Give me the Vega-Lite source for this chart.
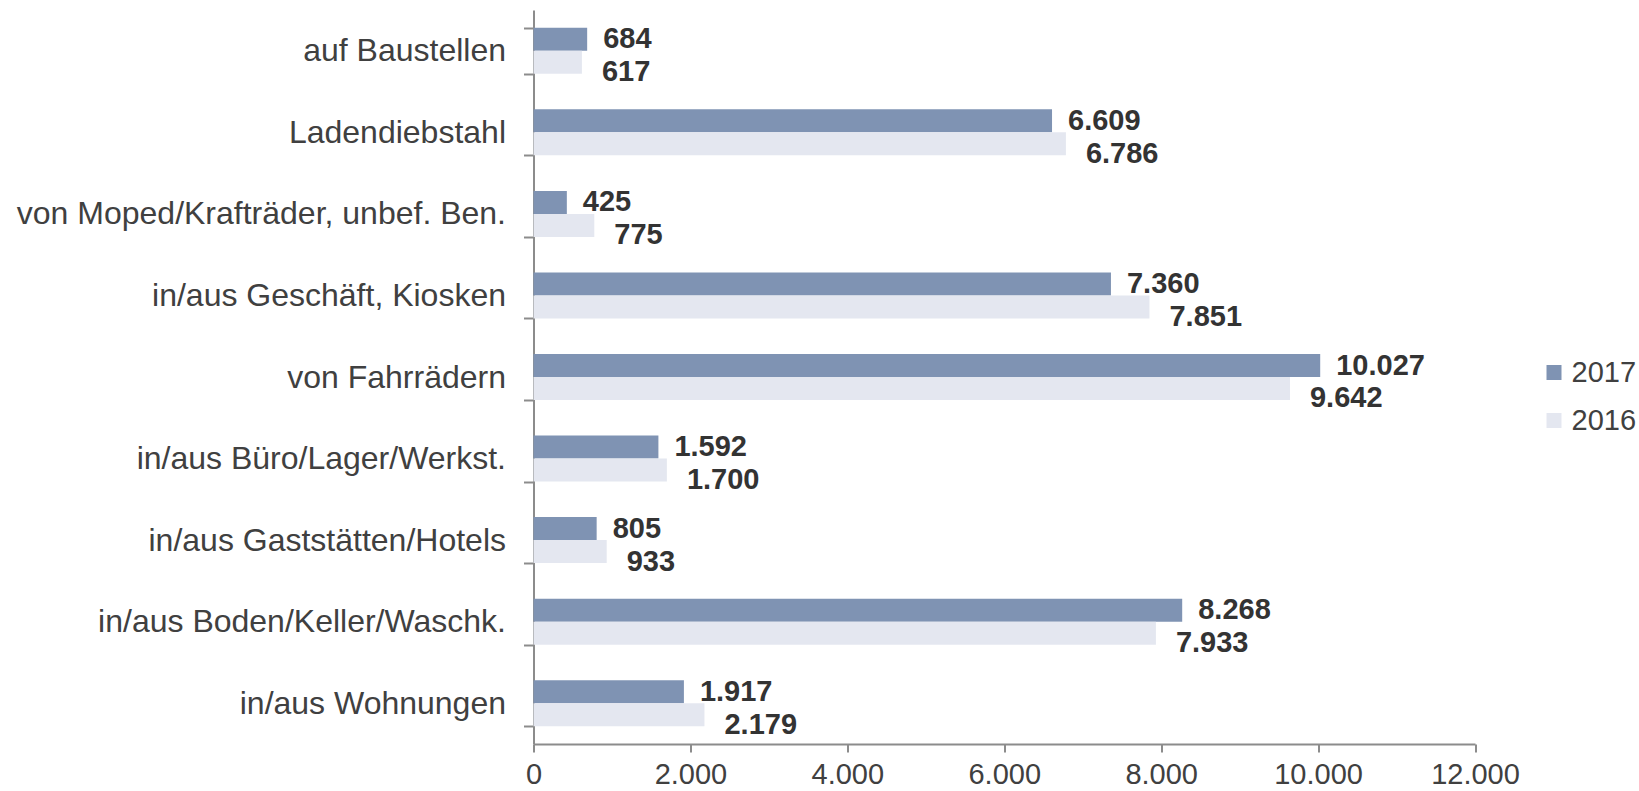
{
  "$schema": "https://vega.github.io/schema/vega-lite/v6.json",
  "autosize": "none",
  "padding": {"left": 533.5, "top": 10, "right": 164, "bottom": 47},
  "width": 941.5,
  "height": 734,
  "background": "white",
  "config": {
    "view": {"stroke": null},
    "font": "Liberation Sans",
    "locale": {"number": {"decimal": ",", "thousands": ".", "grouping": [3], "currency": ["", " €"]}}
  },
  "data": {
    "values": [
      {"kategorie": "auf Baustellen", "jahr": "2017", "wert": 684},
      {"kategorie": "auf Baustellen", "jahr": "2016", "wert": 617},
      {"kategorie": "Ladendiebstahl", "jahr": "2017", "wert": 6609},
      {"kategorie": "Ladendiebstahl", "jahr": "2016", "wert": 6786},
      {"kategorie": "von Moped/Krafträder, unbef. Ben.", "jahr": "2017", "wert": 425},
      {"kategorie": "von Moped/Krafträder, unbef. Ben.", "jahr": "2016", "wert": 775},
      {"kategorie": "in/aus Geschäft, Kiosken", "jahr": "2017", "wert": 7360},
      {"kategorie": "in/aus Geschäft, Kiosken", "jahr": "2016", "wert": 7851},
      {"kategorie": "von Fahrrädern", "jahr": "2017", "wert": 10027},
      {"kategorie": "von Fahrrädern", "jahr": "2016", "wert": 9642},
      {"kategorie": "in/aus Büro/Lager/Werkst.", "jahr": "2017", "wert": 1592},
      {"kategorie": "in/aus Büro/Lager/Werkst.", "jahr": "2016", "wert": 1700},
      {"kategorie": "in/aus Gaststätten/Hotels", "jahr": "2017", "wert": 805},
      {"kategorie": "in/aus Gaststätten/Hotels", "jahr": "2016", "wert": 933},
      {"kategorie": "in/aus Boden/Keller/Waschk.", "jahr": "2017", "wert": 8268},
      {"kategorie": "in/aus Boden/Keller/Waschk.", "jahr": "2016", "wert": 7933},
      {"kategorie": "in/aus Wohnungen", "jahr": "2017", "wert": 1917},
      {"kategorie": "in/aus Wohnungen", "jahr": "2016", "wert": 2179}
    ]
  },
  "encoding": {
    "y": {
      "field": "kategorie",
      "type": "nominal",
      "sort": null,
      "scale": {"paddingInner": 0.436, "paddingOuter": 0.218},
      "axis": {
        "title": null,
        "domainColor": "#8c8c8c",
        "domainWidth": 2,
        "tickColor": "#8c8c8c",
        "tickWidth": 2,
        "tickSize": 10,
        "tickBand": "extent",
        "labelFontSize": 32,
        "labelColor": "#404040",
        "labelPadding": 18,
        "labelLimit": 600
      }
    },
    "yOffset": {
      "field": "jahr",
      "type": "nominal",
      "sort": ["2017", "2016"]
    },
    "x": {
      "field": "wert",
      "type": "quantitative",
      "scale": {"domain": [0, 12000], "nice": false},
      "axis": {
        "title": null,
        "values": [0, 2000, 4000, 6000, 8000, 10000, 12000],
        "format": ",d",
        "grid": false,
        "labelFlush": false,
        "labelOverlap": false,
        "domainColor": "#8c8c8c",
        "domainWidth": 2,
        "tickColor": "#8c8c8c",
        "tickWidth": 2,
        "tickSize": 8,
        "labelFontSize": 29,
        "labelColor": "#404040",
        "labelPadding": 8
      }
    }
  },
  "layer": [
    {
      "mark": {"type": "bar"},
      "encoding": {
        "color": {
          "field": "jahr",
          "type": "nominal",
          "sort": ["2017", "2016"],
          "scale": {"domain": ["2017", "2016"], "range": ["#7f93b3", "#e4e7f0"]},
          "legend": {
            "title": null,
            "orient": "none",
            "legendX": 1006,
            "legendY": 348,
            "padding": 0,
            "symbolType": "square",
            "symbolSize": 225,
            "symbolStrokeWidth": 0,
            "labelFontSize": 29,
            "labelColor": "#404040",
            "labelOffset": 3,
            "rowPadding": 18
          }
        }
      }
    },
    {
      "transform": [{"filter": "datum.jahr == '2017'"}],
      "mark": {"type": "text", "align": "left", "baseline": "middle", "dx": 16, "dy": 0, "fontSize": 29, "fontWeight": "bold", "color": "#333333"},
      "encoding": {
        "text": {"field": "wert", "type": "quantitative", "format": ",d"}
      }
    },
    {
      "transform": [{"filter": "datum.jahr == '2016'"}],
      "mark": {"type": "text", "align": "left", "baseline": "middle", "dx": 20, "dy": 10, "fontSize": 29, "fontWeight": "bold", "color": "#333333"},
      "encoding": {
        "text": {"field": "wert", "type": "quantitative", "format": ",d"}
      }
    }
  ]
}
